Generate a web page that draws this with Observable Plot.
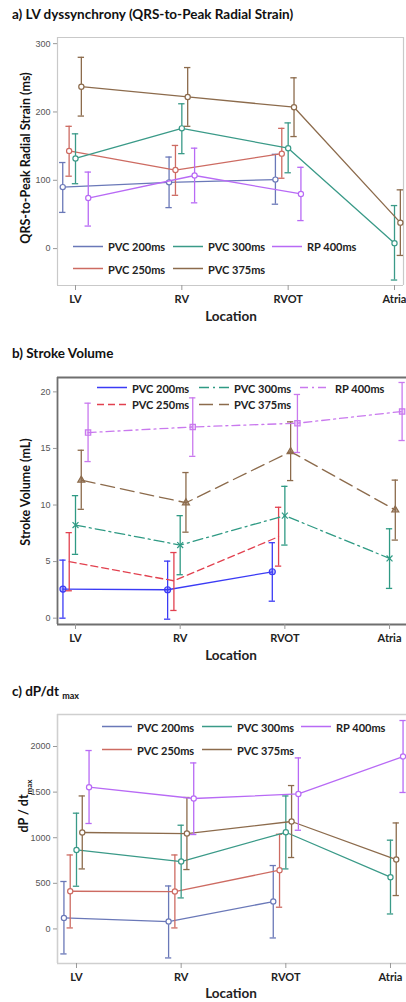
<!DOCTYPE html>
<html><head><meta charset="utf-8">
<script src="https://cdn.jsdelivr.net/npm/d3@7"></script>
<script src="https://cdn.jsdelivr.net/npm/@observablehq/plot@0.6"></script>
<style>
body{margin:0;background:#fff;}
#root{position:relative;width:406px;height:1002px;overflow:hidden;font-family:Lato,"Open Sans",sans-serif;}
.panel{position:absolute;left:0;}
.title{position:absolute;left:12px;font-weight:bold;font-size:13.5px;color:#111;transform:translateY(-50%);white-space:nowrap;}
.title sub{font-size:9px;}
.ylab{position:absolute;font-weight:bold;font-size:12.5px;white-space:nowrap;transform:translate(-50%,-50%) rotate(-90deg);color:#111;}
.ylab sub{font-size:8px;}
.xlab{position:absolute;font-weight:bold;font-size:13.5px;transform:translate(-50%,-50%);color:#222;white-space:nowrap;}
.leg{position:absolute;display:flex;align-items:center;font-weight:bold;font-size:11px;color:#222;transform:translateY(-50%);white-space:nowrap;}
.leg svg{margin-right:5px;}
</style>
</head><body><div id="root"></div>
<script>
const locations = ["LV", "RV", "RVOT", "Atria"];
const seriesNames = ["PVC 200ms", "PVC 250ms", "PVC 300ms", "PVC 375ms", "RP 400ms"];
const legendOrder = [["PVC 200ms", "PVC 300ms", "RP 400ms"], ["PVC 250ms", "PVC 375ms"]];

// a) QRS-to-Peak Radial Strain (ms): rows = series, columns = locations
const strainMean = [[90, 97, 101, null], [143, 115, 139, null], [132, 176, 147, 8], [237, 222, 207, 38], [74, 107, 80, null]];
const strainLow  = [[53, 60, 65, null], [106, 78, 103, null], [95, 139, 111, -46], [194, 179, 164, -10], [33, 67, 41, null]];
const strainHigh = [[126, 134, 138, null], [179, 151, 176, null], [168, 212, 184, 63], [280, 265, 250, 86], [112, 147, 119, null]];
const strainTicks = [0, 100, 200, 300];

// b) Stroke Volume (mL)
const svMean = [[2.57, 2.51, 4.1, null], [5.0, 3.3, 7.2, null], [8.23, 6.46, 9.06, 5.28], [12.2, 10.2, 14.72, 9.56], [16.4, 16.9, 17.23, 18.27]];
const svLow  = [[0, -0.09, 1.5, null], [2.42, 0.68, 4.6, null], [5.64, 3.84, 6.46, 2.63], [9.62, 7.6, 12.16, 6.9], [13.84, 14.3, 14.64, 15.7]];
const svHigh = [[5.13, 5.04, 6.67, null], [7.56, 5.8, 9.8, null], [10.83, 9.06, 11.65, 7.9], [14.84, 12.87, 17.35, 12.2], [19.0, 19.47, 19.77, 20.83]];
const svTicks = [0, 5, 10, 15, 20];

// c) dP/dt max
const dpMean = [[121, 81, 300, null], [413, 410, 644, null], [866, 739, 1060, 567], [1057, 1046, 1178, 761], [1554, 1430, 1480, 1890]];
const dpLow  = [[-274, -318, -99, null], [11, 11, 238, null], [468, 340, 658, 164], [658, 651, 783, 366], [1156, 1035, 1082, 1496]];
const dpHigh = [[520, 471, 695, null], [811, 811, 1038, null], [1269, 1137, 1458, 973], [1458, 1441, 1572, 1162], [1956, 1820, 1875, 2285]];
const dpTicks = [0, 500, 1000, 1500, 2000];

const dodge = [-0.12, -0.06, 0, 0.055, 0.12];
const colorsAC = ["#6a78b8", "#cd6b62", "#3a9a88", "#8c6b4c", "#b86af5"];
const colorsB  = ["#3b3bf5", "#e2414f", "#2f9a84", "#8c6b4c", "#c979ee"];

const root = document.getElementById("root");

function addDiv(cls, html, left, top) {
  const d = document.createElement("div");
  d.className = cls;
  d.innerHTML = html;
  if (left != null) d.style.left = left + "px";
  d.style.top = top + "px";
  root.appendChild(d);
  return d;
}

function panel(cfg) {
  const rows = [];
  cfg.mean.forEach((arr, s) => arr.forEach((v, i) => {
    if (v != null) rows.push({s, name: seriesNames[s], x: i + dodge[s], y: v, lo: cfg.low[s][i], hi: cfg.high[s][i]});
  }));
  const marks = [];
  marks.push(Plot.ruleY([cfg.yDomain[0], cfg.yDomain[1]], {stroke: cfg.frameColor, strokeWidth: cfg.frameWidth}));
  marks.push(Plot.ruleX([cfg.xDomain[0]], {stroke: cfg.frameColor, strokeWidth: cfg.frameWidth}));
  if (cfg.rightFrame) marks.push(Plot.ruleX([cfg.xDomain[1]], {stroke: cfg.frameColor, strokeWidth: cfg.frameWidth}));
  seriesNames.forEach((n, s) => {
    const data = rows.filter(d => d.s === s);
    const c = cfg.colors[s];
    marks.push(Plot.line(data, {x: "x", y: "y", stroke: c, strokeWidth: 1.3, strokeDasharray: cfg.dashes ? cfg.dashes[s] : null}));
    marks.push(Plot.ruleX(data, {x: "x", y1: "lo", y2: "hi", stroke: c, strokeWidth: 1.3}));
    marks.push(Plot.ruleY(data, {y: "lo", x1: d => d.x - 0.03, x2: d => d.x + 0.03, stroke: c, strokeWidth: 1.3}));
    marks.push(Plot.ruleY(data, {y: "hi", x1: d => d.x - 0.03, x2: d => d.x + 0.03, stroke: c, strokeWidth: 1.3}));
    const sym = cfg.symbols[s];
    if (sym) marks.push(Plot.dot(data, {x: "x", y: "y", symbol: sym, r: cfg.dotR ? cfg.dotR[s] : 2.6, stroke: c, strokeWidth: 1.2, fill: cfg.dotFill ? c : "white", fillOpacity: cfg.dotFill ? cfg.dotFill[s] : 1}));
  });
  marks.push(Plot.axisY(cfg.yTicks, {tickSize: 4, tickPadding: 3, label: null, tickFormat: d => String(d), fontSize: 9, fontFamily: "Liberation Sans, Arial, sans-serif", fill: "#555", stroke: "#999"}));
  marks.push(Plot.axisX([0, 1, 2, 3], {tickFormat: i => locations[i], tickSize: 5, tickPadding: 5, label: null, fontSize: 11, fontWeight: "bold", fontFamily: "Lato, sans-serif", fill: "#222", stroke: "#999"}));
  const svg = Plot.plot({
    width: 406, height: cfg.height,
    marginTop: cfg.marginTop, marginBottom: cfg.marginBottom, marginLeft: 57, marginRight: cfg.marginRight,
    x: {domain: cfg.xDomain},
    y: {domain: cfg.yDomain},
    style: {background: "transparent", overflow: "visible"},
    marks
  });
  const wrap = document.createElement("div");
  wrap.className = "panel";
  wrap.style.top = cfg.top + "px";
  wrap.appendChild(svg);
  root.appendChild(wrap);

  cfg.legendRows.forEach((ry, r) => {
    legendOrder[r].forEach((name, c) => {
      const s = seriesNames.indexOf(name);
      const dash = cfg.dashes ? cfg.dashes[s] : "";
      const html = `<svg width="30" height="6"><line x1="0" x2="30" y1="3" y2="3" stroke="${cfg.colors[s]}" stroke-width="1.4" ${dash ? `stroke-dasharray="${dash}"` : ""}/></svg><span>${name}</span>`;
      addDiv("leg", html, cfg.legendCols[c], ry);
    });
  });
}

// Panel a
addDiv("title", "a) LV dyssynchrony (QRS-to-Peak Radial Strain)", null, 14);
panel({
  top: 0, height: 330, marginTop: 37, marginBottom: 45, marginRight: 3,
  xDomain: [-0.1693, 3.0846], yDomain: [-54, 309], yTicks: strainTicks,
  mean: strainMean, low: strainLow, high: strainHigh,
  colors: colorsAC, symbols: ["circle", "circle", "circle", "circle", "circle"],
  frameColor: "#c9c9c9", frameWidth: 1.2, rightFrame: true,
  legendRows: [246, 268.7], legendCols: [73, 173, 272]
});
addDiv("ylab", "QRS-to-Peak Radial Strain (ms)", 25, 158);
addDiv("xlab", "Location", 231, 316);

// Panel b
addDiv("title", "b) Stroke Volume", null, 353);
panel({
  top: 330, height: 330, marginTop: 47, marginBottom: 36, marginRight: 0,
  xDomain: [-0.172, 3.162], yDomain: [-0.56, 21.27], yTicks: svTicks,
  mean: svMean, low: svLow, high: svHigh,
  colors: colorsB, dashes: [null, "7,4", "10,4,2,4", "14,6", "8,4,2,4"],
  symbols: ["circle", null, "times", "triangle", "square"], dotR: [3, 0, 2.8, 2.6, 3],
  dotFill: [0.35, 0, 1, 0.6, 0.3],
  frameColor: "#6f6f6f", frameWidth: 1.8, rightFrame: false,
  legendRows: [387.7, 404.3], legendCols: [97, 199, 300]
});
addDiv("ylab", "Stroke Volume (mL)", 25, 492);
addDiv("xlab", "Location", 231, 655);

// Panel c
addDiv("title", "c) dP/dt <sub>max</sub>", null, 692);
panel({
  top: 660, height: 342, marginTop: 54, marginBottom: 39, marginRight: 0,
  xDomain: [-0.1815, 3.153], yDomain: [-379, 2351], yTicks: dpTicks,
  mean: dpMean, low: dpLow, high: dpHigh,
  colors: colorsAC, symbols: ["circle", "circle", "circle", "circle", "circle"],
  frameColor: "#cfcfcf", frameWidth: 1.6, rightFrame: false,
  legendRows: [726.7, 749.7], legendCols: [102, 202, 301]
});
addDiv("ylab", "dP / dt<sub>max</sub>", 25, 806);
addDiv("xlab", "Location", 231, 993);
</script></body></html>
